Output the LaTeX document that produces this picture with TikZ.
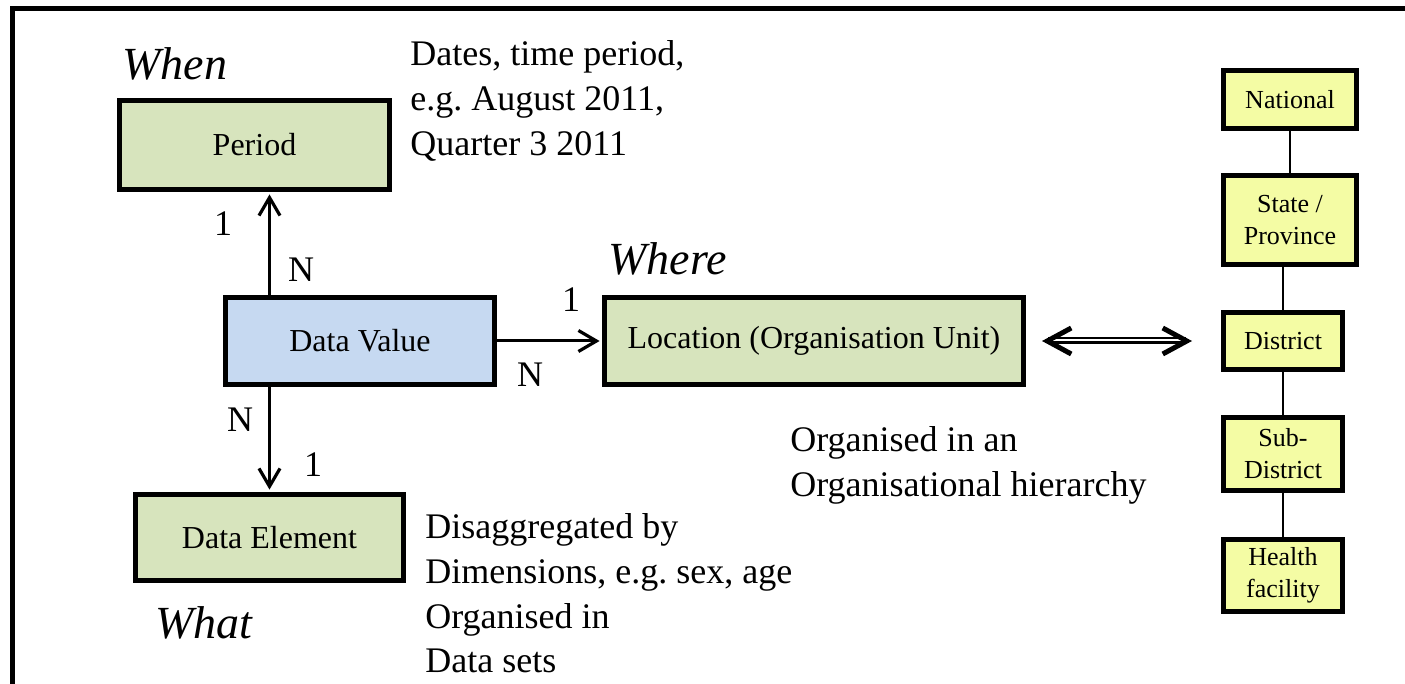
\documentclass[tikz,border=0pt]{standalone}
\usepackage{fontspec}
\setmainfont{Liberation Serif}
\usetikzlibrary{arrows.meta}
\definecolor{boxgreen}{HTML}{D7E4BD}
\definecolor{boxblue}{HTML}{C6D9F1}
\definecolor{boxyellow}{HTML}{F4FCA4}
\frenchspacing

\begin{document}
\begin{tikzpicture}[x=0.5pt,y=-0.5pt,
  entity/.style={draw, line width=2.5pt, inner sep=0pt, font=\fontsize{16}{19}\selectfont},
  level/.style={draw, line width=2.5pt, fill=boxyellow, inner sep=0pt, align=center, font=\fontsize{13}{16}\selectfont},
  rel/.style={line width=1.5pt, shorten >=1.2pt, -{Straight Barb[length=9pt,width=10.5pt,line width=1.6pt]}},
  note/.style={anchor=base west, align=left, inner sep=0pt, font=\fontsize{18}{22.5}\selectfont},
  card/.style={inner sep=0pt, font=\fontsize{18}{22}\selectfont},
  ask/.style={anchor=base west, inner sep=0pt, font=\fontsize{23}{27}\selectfont\itshape},
  tie/.style={line width=0.75pt},
  twin/.style={line width=1pt, double=white, double distance=1.5pt},
  twintips/.style={line width=0.1pt, {Straight Barb[length=12pt,width=13pt,line width=2.5pt]}-{Straight Barb[length=12pt,width=13pt,line width=2.5pt]}}]

\useasboundingbox (0,0) rectangle (1405,684);
\clip (0,0) rectangle (1405,684);

% frame
\draw[line width=2.5pt] (12.5,720) -- (12.5,8.5) -- (1440,8.5);

% entities
\node[entity, fill=boxgreen, minimum width=135pt, minimum height=44.5pt] (per) at (254.5,145) {Period};
\node[entity, fill=boxblue, minimum width=134.5pt, minimum height=43.5pt] (dv) at (360,341) {Data Value};
\node[entity, fill=boxgreen, minimum width=209.5pt, minimum height=43.5pt] (loc) at (814,341) {Location (Organisation Unit)};
\node[entity, fill=boxgreen, minimum width=134pt, minimum height=43pt] (de) at (269.5,537.5) {Data Element};

% relations
\draw[rel] (dv.north -| de) -- (per.south -| de);
\draw[rel] (dv.south -| de) -- (de.north);
\draw[rel] (dv.east) -- (loc.west);

% cardinalities
\node[card] (c1) at (223,224) {1};
\node[card] (cn1) at (301,270) {N};
\node[card] (c2) at (571,300) {1};
\node[card] (cn2) at (530,375) {N};
\node[card] (cn3) at (240,420) {N};
\node[card] (c3) at (313,465) {1};

% questions
\node[ask] (when) at (122,80) {When};
\node[ask] (where) at (608,275) {Where};
\node[ask] (what) at (155,639) {What};

% notes (anchored at the baseline of their last line)
\node[note] (dates) at (410,156) {Dates, time period,\\e.g. August 2011,\\Quarter 3 2011};
\node[note] (org) at (790,497) {Organised in an\\Organisational hierarchy};
\node[note] (dis) at (425,673) {Disaggregated by\\Dimensions, e.g. sex, age\\Organised in\\Data sets};

% hierarchy
\node[level, minimum width=66.5pt, minimum height=29pt] (nat) at (1290,99.5) {National};
\node[level, minimum width=66.5pt, minimum height=44.5pt] (st) at (1290,220) {State /\\Province};
\node[level, minimum width=59.5pt, minimum height=28.5pt] (dist) at (1283,341) {District};
\node[level, minimum width=59.5pt, minimum height=36.5pt] (sub) at (1283,454) {Sub-\\District};
\node[level, minimum width=59.5pt, minimum height=36pt] (hf) at (1283,575.5) {Health\\facility};
\draw[tie] (nat) -- (st);
\draw[tie] (st.south -| dist) -- (dist);
\draw[tie] (dist) -- (sub);
\draw[tie] (sub) -- (hf);

% location to hierarchy
\draw[twin, shorten <=3pt, shorten >=3pt] ([xshift=8pt]loc.east) -- ([xshift=-14.5pt]dist.west);
\draw[twintips] ([xshift=8pt]loc.east) -- ([xshift=-14.5pt]dist.west);
\end{tikzpicture}
\end{document}
